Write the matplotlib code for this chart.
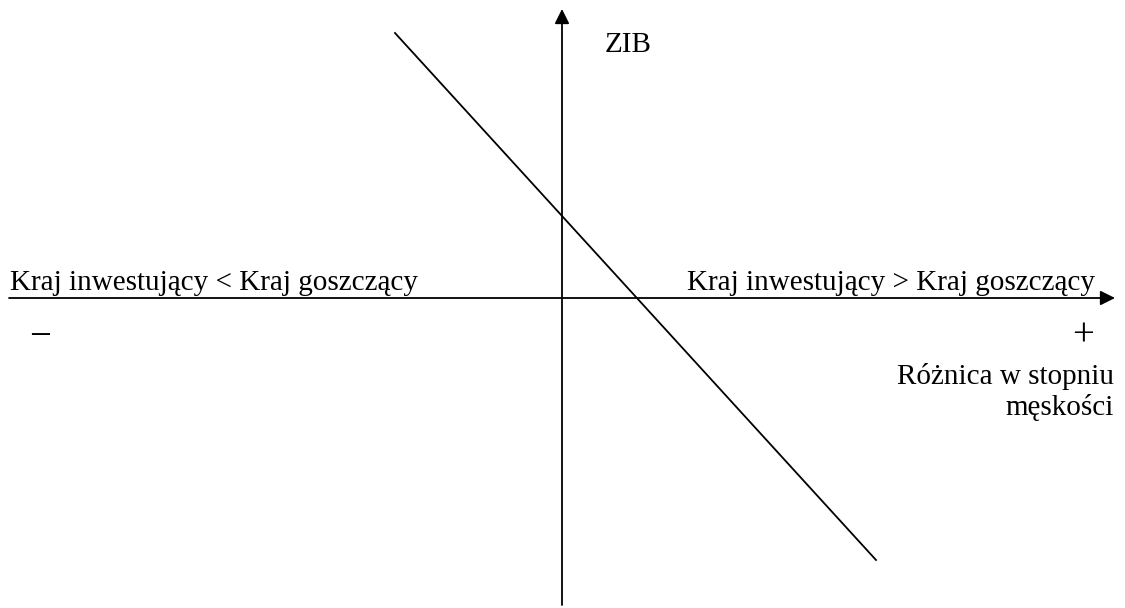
import matplotlib.pyplot as plt

# Schematic coordinates (origin at the axes crossing, y up)
axis_x = [-553, 553]        # horizontal axis extent
axis_y = [-307, 289]        # vertical axis extent
line_x = [-167, 314]        # ZIB line
line_y = [265, -262]

left_label = 'Kraj inwestujący < Kraj goszczący'
right_label = 'Kraj inwestujący > Kraj goszczący'
y_label = 'ZIB'
x_label = 'Różnica w stopniu\nmęskości'

plt.rcParams['font.family'] = ['Liberation Serif', 'DejaVu Serif']

fig = plt.figure(figsize=(11.25, 6.08), dpi=100)
ax = fig.add_axes([0, 0, 1, 1])
ax.set_xlim(-562, 563)
ax.set_ylim(-310, 298)
ax.axis('off')

arrow = dict(arrowstyle='-|>', color='black', lw=1.3, mutation_scale=22,
             shrinkA=0, shrinkB=0)
ax.annotate('', xy=(axis_x[1], 0), xytext=(axis_x[0], 0), arrowprops=arrow)
ax.annotate('', xy=(0, axis_y[1]), xytext=(0, axis_y[0]), arrowprops=arrow)

ax.plot(line_x, line_y, color='black', lw=1.3)

fs = 21
ax.text(43, 253, y_label, fontsize=fs, ha='left', va='center')
ax.text(-552, 8, left_label, fontsize=fs, ha='left', va='baseline')
ax.text(533, 8, right_label, fontsize=fs, ha='right', va='baseline')
ax.text(-522, -39, '−', fontsize=28, ha='center', va='center')
ax.text(521, -38, '+', fontsize=28, ha='center', va='center')
ax.text(552, -94, x_label, fontsize=fs, ha='right', va='center',
        multialignment='right', linespacing=1.15)

fig.savefig('out.png', dpi=100)
